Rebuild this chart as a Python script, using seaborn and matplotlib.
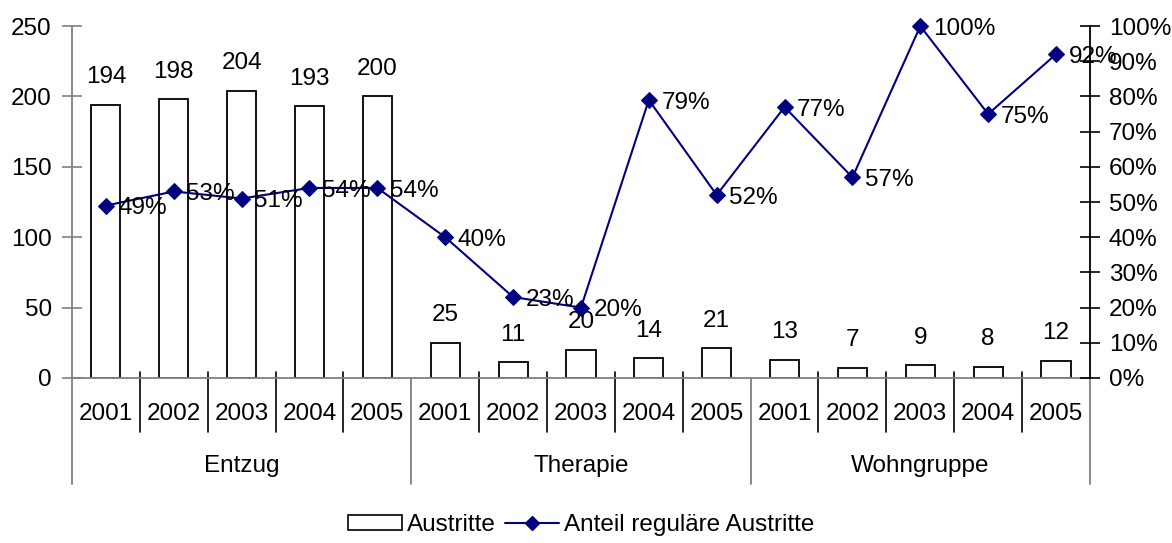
import numpy as np
import pandas as pd
import seaborn as sns
import matplotlib.pyplot as plt
import matplotlib.transforms as mtransforms
from matplotlib.patches import Patch
from matplotlib.lines import Line2D

# data
groups = ["Entzug", "Therapie", "Wohngruppe"]
years = ["2001", "2002", "2003", "2004", "2005"]
austritte = [194, 198, 204, 193, 200, 25, 11, 20, 14, 21, 13, 7, 9, 8, 12]
anteil = [0.49, 0.53, 0.51, 0.54, 0.54, 0.40, 0.23, 0.20, 0.79, 0.52,
          0.77, 0.57, 1.00, 0.75, 0.92]

sns.set_style("white")
plt.rcParams['font.family'] = ['Liberation Sans', 'DejaVu Sans']
plt.rcParams['text.color'] = 'black'
plt.rcParams['ytick.labelcolor'] = 'black'
FS = 17.5

df = pd.DataFrame({
    "idx": np.arange(len(austritte)),
    "gruppe": np.repeat(groups, len(years)),
    "jahr": years * len(groups),
    "Austritte": austritte,
    "Anteil": anteil,
})

fig = plt.figure(figsize=(11.72, 5.43), dpi=100)
ax = fig.add_axes([0.0614, 0.3039, 0.8686, 0.6481])

sns.barplot(data=df, x="idx", y="Austritte", color="white", edgecolor="black",
            linewidth=1.3, width=0.43, ax=ax, saturation=1)
ax.set_xlim(-0.5, len(df) - 0.5)
ax.set_ylim(0, 250)
ax.set_yticks(range(0, 251, 50))
ax.set_xticks([])
ax.set_xlabel("")
ax.set_ylabel("")
ax.tick_params(axis="y", direction="inout", length=15, width=1.2, color="#808080",
               labelsize=FS, labelcolor="black", pad=7, left=True)
for s in ["top", "right"]:
    ax.spines[s].set_visible(False)
ax.spines["left"].set_color("#808080")
ax.spines["bottom"].set_color("#808080")
ax.spines["left"].set_linewidth(1.3)
ax.spines["bottom"].set_linewidth(1.3)

for i, v in enumerate(df["Austritte"]):
    ax.annotate(str(v), (i, v), xytext=(0, 12), textcoords="offset points",
                ha="center", va="bottom", fontsize=FS, color="black")

ax2 = ax.twinx()
sns.lineplot(data=df, x="idx", y="Anteil", color="#000080", linewidth=1.5,
             marker="D", markersize=8.5, markeredgecolor="#000080", ax=ax2)
for ln in ax2.get_lines():
    ln.set_clip_on(False)
ax2.set_ylim(0, 1)
ax2.set_xlim(-0.5, len(df) - 0.5)
ax2.set_yticks(np.arange(0, 1.01, 0.1))
ax2.set_yticklabels([f"{int(round(t * 100))}%" for t in np.arange(0, 1.01, 0.1)])
ax2.set_ylabel("")
ax2.set_xlabel("")
ax2.tick_params(axis="y", direction="inout", length=15, width=1.2, color="black",
                labelsize=FS, labelcolor="black", pad=6, right=True)
for s in ["top", "left", "bottom"]:
    ax2.spines[s].set_visible(False)
ax2.spines["right"].set_color("black")
ax2.spines["right"].set_linewidth(1.3)

for i, v in enumerate(df["Anteil"]):
    ax2.annotate(f"{int(round(v * 100))}%", (i, v), xytext=(9, -2),
                 textcoords="offset points", ha="left", va="center", fontsize=FS,
                 color="black")

# two-level category axis
trans = mtransforms.blended_transform_factory(ax.transData, ax.transAxes)
ax_h = 0.6481 * 5.43 * 100
y_year = -36 / ax_h
y_group = -88 / ax_h
y_sep1 = -54 / ax_h
y_sep2 = -106 / ax_h
for i, row in df.iterrows():
    ax.text(i, y_year, row["jahr"], transform=trans, ha="center", va="center",
            fontsize=FS)
for g, name in enumerate(groups):
    center = g * len(years) + (len(years) - 1) / 2
    ax.text(center, y_group, name, transform=trans, ha="center", va="center",
            fontsize=FS)
for b in range(len(df) + 1):
    x = b - 0.5
    if b % len(years) == 0:
        ax.plot([x, x], [0, y_sep2], transform=trans, color="#808080", lw=1.3,
                clip_on=False)
    else:
        ax.plot([x, x], [0.017, y_sep1], transform=trans, color="black", lw=1.2,
                clip_on=False)

handles = [Patch(facecolor="white", edgecolor="black", linewidth=1.2),
           Line2D([], [], color="#000080", lw=1.5, marker="D", markersize=7)]
fig.legend(handles, ["Austritte", "Anteil reguläre Austritte"], loc="center",
           bbox_to_anchor=(0.496, 1 - 525 / 543), ncol=2, frameon=False, fontsize=FS,
           handlelength=2.2, handleheight=0.6, handletextpad=0.2, columnspacing=0.4)

fig.savefig("out.png", dpi=100)
